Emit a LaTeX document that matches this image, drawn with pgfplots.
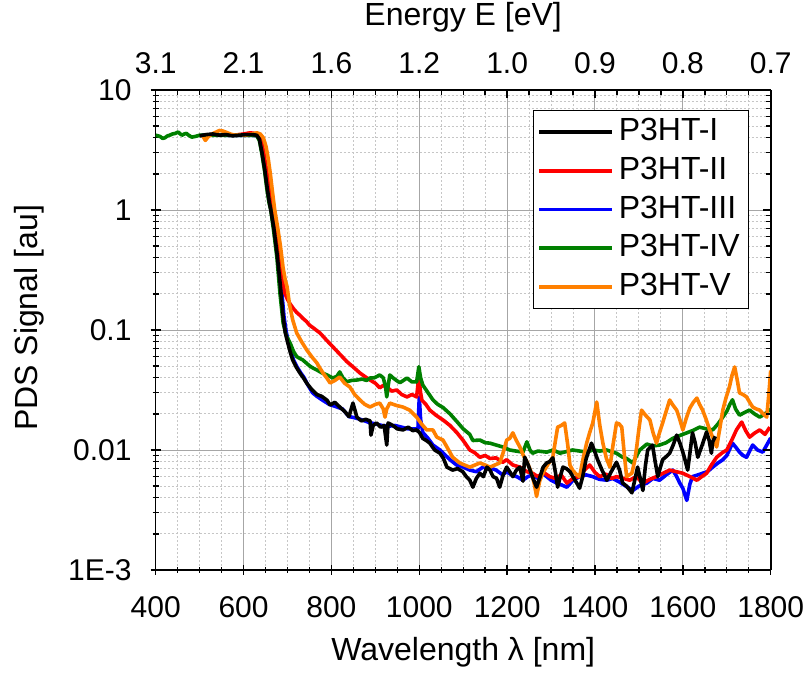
\documentclass[border=0pt]{standalone}
\usepackage{fontspec}
\setmainfont{Liberation Sans}
\usepackage{pgfplots}
\pgfplotsset{compat=1.18}
\definecolor{cgreen}{RGB}{0,128,0}
\definecolor{corange}{RGB}{255,128,0}
\definecolor{cred}{RGB}{255,0,0}
\definecolor{cblue}{RGB}{0,0,255}
\begin{document}
\begin{tikzpicture}
\useasboundingbox (-155.7pt,-104pt) rectangle (653.3pt,570pt);
\begin{axis}[
  at={(0pt,0pt)}, anchor=south west,
  scale only axis, width=615pt, height=480pt,
  xmin=400, xmax=1800, ymode=log, ymin=1e-3, ymax=10,
  xtick={400,600,...,1800}, minor x tick num=3,
  ytick={0.001,0.01,0.1,1,10},
  minor ytick={0.002,0.003,0.004,0.005,0.006,0.007,0.008,0.009,0.02,0.03,0.04,0.05,0.06,0.07,0.08,0.09,0.2,0.3,0.4,0.5,0.6,0.7,0.8,0.9,2,3,4,5,6,7,8,9},
  axis line style={line width=1.6pt, black, -},
  every tick/.style={black, line width=1.4pt},
  tick label style={font=\fontsize{30}{36}\selectfont, inner sep=0pt},
  label style={font=\fontsize{32}{38}\selectfont, inner sep=0pt},
  axis x line*=bottom, axis y line*=left,
  xticklabels={400,600,800,1000,1200,1400,1600,1800},
  yticklabels={1E-3,0.01,0.1,1,10},
  tick align=center, major tick length=10pt, minor tick length=6pt,
  grid=both,
  major grid style={line width=1pt, gray!70},
  minor grid style={line width=1pt, gray!45, dash pattern=on 2pt off 2pt},
  xticklabel style={anchor=center, yshift=-32pt},
  yticklabel style={anchor=east, xshift=-19pt},
  xlabel={Wavelength λ [nm]},
  xlabel style={at={(axis description cs:0.5,-0.171)}, anchor=center},
  ylabel={PDS Signal [au]},
  ylabel style={at={(axis description cs:-0.205,0.525)}, anchor=center},
  legend cell align=left,
  legend image code/.code={\draw[#1, line width=3.6pt] (0pt,0pt) -- (73pt,0pt);},
  legend style={at={(axis description cs:0.613,0.958)}, anchor=north west,
    draw=black, line width=1pt, fill=white,
    font=\fontsize{32}{38}\selectfont,
    inner xsep=4pt, inner ysep=5pt, row sep=5.7pt,
    nodes={inner xsep=5pt, inner ysep=2pt, text height=23pt, text depth=6pt}},
]
\addlegendimage{black}
\addlegendentry{P3HT-I}
\addlegendimage{cred}
\addlegendentry{P3HT-II}
\addlegendimage{cblue}
\addlegendentry{P3HT-III}
\addlegendimage{cgreen}
\addlegendentry{P3HT-IV}
\addlegendimage{corange}
\addlegendentry{P3HT-V}

% P3HT-III (blue)
\addplot[cblue, line width=3.6pt, line join=round, forget plot] coordinates {
(505,4.2)(530,4.25)(560,4.2)(590,4.2)(620,4.2)(631,4.15)(638,3.9)(644,3.0)(650,2.2)(655,1.6)(660,1.2)(664,1.0)(671,0.7)(678,0.44)(685,0.25)(692,0.13)(697,0.097)(702,0.08)(708,0.066)(714,0.056)(722,0.049)(730,0.044)(738,0.040)(746,0.035)(757,0.030)(767,0.028)(780,0.026)(795,0.024)(810,0.023)(825,0.022)(840,0.019)(855,0.0185)(870,0.0178)(885,0.017)(900,0.0165)(915,0.016)(930,0.0158)(945,0.016)(960,0.0155)(975,0.015)(990,0.0150)(997,0.0150)(1000,0.0277)(1003,0.018)(1008,0.014)(1020,0.0125)(1031,0.011)(1047,0.0100)(1060,0.0090)(1070,0.0083)(1085,0.0075)(1100,0.0072)(1115,0.0068)(1130,0.0066)(1145,0.0072)(1161,0.0071)(1175,0.0068)(1190,0.0062)(1199,0.0066)(1210,0.0062)(1222,0.0060)(1236,0.0056)(1247,0.0060)(1258,0.0062)(1270,0.0058)(1280,0.0064)(1290,0.0060)(1300,0.0056)(1313,0.0053)(1325,0.0051)(1336,0.0049)(1350,0.0056)(1365,0.0060)(1380,0.0062)(1395,0.0060)(1410,0.0057)(1427,0.0056)(1440,0.0058)(1456,0.0054)(1470,0.0050)(1486,0.0046)(1500,0.0050)(1518,0.0053)(1532,0.0058)(1547,0.0056)(1562,0.0062)(1577,0.0068)(1586,0.0060)(1593,0.0053)(1600,0.0048)(1609,0.0038)(1616,0.0052)(1622,0.0060)(1634,0.0062)(1645,0.0064)(1656,0.0066)(1668,0.0072)(1680,0.0078)(1691,0.0083)(1700,0.0090)(1713,0.0114)(1721,0.0105)(1729,0.0096)(1737,0.0090)(1745,0.0087)(1752,0.0098)(1759,0.0110)(1770,0.0100)(1782,0.0096)(1791,0.0110)(1800,0.0126)
};
% P3HT-II (red)
\addplot[cred, line width=3.6pt, line join=round, forget plot] coordinates {
(580,4.2)(600,4.3)(615,4.4)(625,4.35)(633,4.2)(640,3.9)(646,3.0)(652,2.2)(657,1.6)(662,1.2)(666,1.0)(673,0.7)(680,0.44)(686,0.29)(690,0.24)(694,0.203)(700,0.18)(706,0.165)(714,0.15)(721,0.14)(728,0.133)(735,0.125)(743,0.118)(750,0.11)(762,0.102)(774,0.0944)(788,0.083)(803,0.0726)(819,0.063)(835,0.0546)(850,0.049)(865,0.0438)(876,0.041)(888,0.0383)(900,0.036)(910,0.0330)(918,0.0345)(926,0.0335)(937,0.031)(949,0.0316)(960,0.029)(972,0.0277)(983,0.029)(994,0.0277)(999,0.041)(1003,0.030)(1006,0.026)(1015,0.024)(1024,0.0215)(1038,0.0195)(1054,0.0178)(1070,0.016)(1086,0.0139)(1100,0.012)(1115,0.0100)(1126,0.0095)(1138,0.0087)(1150,0.0090)(1161,0.0085)(1175,0.0086)(1190,0.0079)(1199,0.0083)(1213,0.0075)(1229,0.0072)(1245,0.0066)(1258,0.0064)(1270,0.0060)(1283,0.0065)(1297,0.0060)(1310,0.0058)(1323,0.0062)(1336,0.0053)(1350,0.0058)(1365,0.0060)(1376,0.0068)(1388,0.0075)(1400,0.0065)(1411,0.0060)(1425,0.0063)(1438,0.0058)(1449,0.0060)(1465,0.0058)(1479,0.0056)(1494,0.0060)(1509,0.0053)(1525,0.0057)(1540,0.0060)(1555,0.0064)(1570,0.0068)(1585,0.0066)(1600,0.0064)(1616,0.0060)(1632,0.0056)(1643,0.0060)(1654,0.0064)(1665,0.0075)(1677,0.0087)(1690,0.0095)(1700,0.0100)(1711,0.0120)(1722,0.0147)(1734,0.0171)(1743,0.0145)(1752,0.0128)(1763,0.0138)(1775,0.0147)(1787,0.0135)(1798,0.0155)
};
% P3HT-IV (green)
\addplot[cgreen, line width=3.6pt, line join=round, forget plot] coordinates {
(400,4.2)(405,4.15)(410,4.1)(416,3.95)(421,4.0)(427,4.15)(432,4.2)(438,4.3)(445,4.35)(451,4.47)(456,4.3)(460,4.2)(465,4.3)(470,4.35)(475,4.2)(482,4.05)(490,4.1)(500,4.2)(520,4.2)(540,4.2)(560,4.2)(580,4.2)(600,4.2)(620,4.2)(630,4.15)(636,3.8)(642,2.9)(648,2.1)(653,1.5)(658,1.15)(662,1.0)(669,0.65)(676,0.4)(683,0.2)(690,0.115)(697,0.09)(706,0.0779)(714,0.066)(721,0.060)(728,0.058)(735,0.0562)(743,0.053)(751,0.050)(759,0.048)(767,0.0464)(778,0.044)(790,0.0422)(803,0.0398)(812,0.041)(819,0.0447)(826,0.040)(835,0.0371)(846,0.038)(858,0.0383)(870,0.039)(880,0.038)(888,0.0398)(898,0.040)(910,0.0422)(918,0.040)(923,0.034)(926,0.0277)(929,0.034)(933,0.0422)(940,0.040)(948,0.038)(956,0.0364)(964,0.038)(972,0.0398)(983,0.037)(994,0.0369)(999,0.0494)(1003,0.040)(1008,0.0348)(1020,0.030)(1031,0.0262)(1042,0.024)(1054,0.0226)(1070,0.020)(1086,0.0172)(1100,0.0150)(1115,0.0135)(1122,0.0120)(1138,0.0121)(1150,0.0115)(1161,0.0114)(1175,0.0110)(1190,0.0106)(1206,0.0100)(1220,0.0098)(1236,0.0096)(1245,0.0117)(1252,0.0100)(1258,0.0094)(1270,0.0098)(1290,0.0096)(1305,0.0100)(1320,0.0094)(1335,0.0097)(1349,0.0100)(1365,0.0098)(1381,0.0096)(1395,0.0100)(1411,0.0098)(1427,0.0100)(1440,0.0096)(1449,0.0094)(1463,0.0087)(1472,0.0085)(1486,0.0078)(1495,0.0090)(1502,0.0100)(1518,0.0112)(1532,0.0108)(1547,0.0110)(1562,0.0115)(1577,0.0125)(1593,0.0132)(1609,0.0139)(1622,0.0145)(1638,0.0155)(1654,0.0150)(1668,0.0147)(1680,0.0165)(1691,0.0188)(1700,0.021)(1707,0.024)(1713,0.0262)(1720,0.022)(1729,0.0195)(1740,0.0205)(1752,0.0215)(1763,0.020)(1775,0.0188)(1787,0.020)(1800,0.022)
};
% P3HT-V (orange)
\addplot[corange, line width=3.6pt, line join=round, forget plot] coordinates {
(508,4.1)(513,3.8)(520,4.1)(528,4.3)(537,4.45)(545,4.6)(553,4.55)(560,4.45)(570,4.3)(580,4.2)(590,4.25)(600,4.2)(610,4.25)(620,4.3)(630,4.4)(638,4.3)(645,4.0)(651,3.4)(656,2.7)(661,2.0)(666,1.4)(671,1.0)(678,0.7)(684,0.5)(690,0.33)(695,0.26)(699,0.23)(705,0.16)(712,0.121)(721,0.0944)(732,0.080)(744,0.0681)(755,0.060)(767,0.0531)(774,0.048)(781,0.0438)(789,0.040)(797,0.0362)(808,0.038)(819,0.0406)(830,0.036)(842,0.0335)(853,0.029)(865,0.0261)(876,0.024)(888,0.0228)(900,0.024)(910,0.0246)(918,0.022)(922,0.0188)(926,0.022)(933,0.0246)(948,0.0235)(963,0.0228)(978,0.0215)(994,0.0188)(1005,0.0165)(1017,0.0147)(1031,0.0147)(1040,0.0128)(1054,0.0121)(1063,0.0106)(1076,0.0087)(1092,0.0078)(1103,0.0075)(1115,0.0072)(1127,0.0075)(1138,0.0078)(1150,0.0075)(1161,0.0072)(1172,0.0075)(1183,0.0078)(1191,0.0095)(1199,0.0121)(1206,0.0125)(1213,0.0139)(1221,0.0120)(1229,0.0106)(1237,0.0090)(1245,0.0080)(1255,0.0065)(1262,0.0052)(1267,0.0041)(1274,0.0055)(1281,0.0064)(1292,0.0075)(1304,0.0087)(1310,0.0120)(1315,0.0155)(1323,0.0160)(1331,0.0168)(1338,0.0110)(1343,0.0075)(1349,0.0068)(1357,0.0063)(1365,0.0060)(1373,0.0085)(1381,0.0114)(1388,0.0140)(1395,0.0168)(1404,0.0251)(1411,0.0160)(1418,0.0114)(1426,0.0085)(1434,0.0072)(1441,0.0110)(1449,0.0168)(1455,0.0165)(1461,0.0155)(1467,0.0090)(1472,0.0060)(1478,0.0062)(1484,0.0064)(1490,0.0080)(1495,0.0106)(1500,0.0150)(1506,0.0215)(1515,0.0195)(1525,0.0178)(1532,0.0140)(1540,0.0114)(1547,0.0140)(1554,0.0168)(1562,0.0210)(1570,0.0261)(1578,0.0235)(1586,0.0215)(1593,0.0180)(1600,0.0147)(1608,0.0185)(1616,0.0224)(1624,0.0250)(1632,0.0271)(1638,0.0240)(1645,0.0215)(1653,0.0180)(1661,0.0147)(1669,0.0125)(1677,0.0106)(1684,0.0150)(1691,0.0215)(1698,0.0270)(1706,0.0335)(1712,0.0420)(1718,0.0492)(1724,0.0380)(1729,0.0299)(1737,0.0290)(1745,0.0277)(1752,0.0250)(1759,0.0228)(1767,0.0220)(1775,0.0215)(1783,0.0200)(1791,0.0188)(1796,0.0300)(1800,0.0460)
};
% P3HT-I (black)
\addplot[black, line width=3.6pt, line join=round, forget plot] coordinates {
(500,4.15)(515,4.25)(530,4.3)(545,4.2)(560,4.25)(575,4.15)(590,4.2)(605,4.25)(620,4.25)(630,4.2)(636,3.9)(642,3.0)(648,2.2)(653,1.6)(658,1.2)(662,1.0)(669,0.7)(676,0.44)(683,0.25)(690,0.13)(695,0.095)(700,0.08)(706,0.066)(712,0.056)(720,0.049)(728,0.044)(736,0.040)(744,0.036)(755,0.032)(767,0.029)(778,0.028)(790,0.026)(797,0.0237)(808,0.025)(819,0.0228)(830,0.021)(840,0.019)(849,0.0246)(858,0.0188)(868,0.0175)(878,0.0180)(888,0.0175)(890,0.0133)(895,0.016)(903,0.0168)(912,0.0155)(920,0.016)(926,0.011)(929,0.0168)(940,0.0160)(950,0.0150)(963,0.0147)(975,0.0155)(985,0.0145)(994,0.0147)(1001,0.0139)(1008,0.0125)(1016,0.012)(1024,0.0114)(1035,0.0100)(1047,0.0094)(1055,0.0085)(1063,0.0072)(1076,0.0068)(1087,0.0070)(1099,0.0066)(1107,0.0060)(1115,0.0056)(1122,0.0049)(1130,0.0058)(1138,0.0064)(1146,0.0060)(1154,0.0072)(1161,0.0068)(1168,0.0060)(1176,0.0058)(1183,0.0049)(1191,0.0062)(1199,0.0072)(1206,0.0066)(1213,0.0060)(1221,0.0068)(1229,0.0072)(1236,0.0055)(1240,0.0087)(1248,0.0075)(1256,0.0062)(1267,0.0049)(1275,0.0060)(1282,0.0072)(1290,0.0078)(1297,0.0080)(1304,0.0086)(1310,0.0065)(1315,0.0049)(1321,0.0060)(1327,0.0072)(1335,0.0070)(1343,0.0066)(1352,0.0058)(1360,0.0052)(1365,0.0048)(1372,0.0060)(1380,0.0085)(1392,0.0114)(1399,0.0098)(1406,0.0083)(1416,0.0068)(1427,0.0056)(1437,0.0066)(1449,0.0079)(1456,0.0068)(1463,0.0053)(1472,0.0050)(1484,0.0044)(1490,0.0055)(1497,0.0072)(1503,0.0058)(1509,0.0046)(1515,0.0075)(1520,0.0100)(1531,0.0110)(1537,0.0080)(1543,0.0060)(1549,0.0072)(1554,0.0083)(1562,0.0088)(1570,0.0094)(1578,0.0110)(1586,0.0133)(1593,0.0115)(1600,0.0096)(1606,0.0080)(1611,0.0068)(1617,0.0100)(1622,0.0139)(1628,0.0115)(1634,0.0087)(1644,0.0110)(1654,0.0141)(1660,0.0120)(1665,0.0094)(1668,0.0117)(1674,0.0130)
};
\end{axis}
\begin{axis}[
  at={(0pt,0pt)}, anchor=south west,
  scale only axis, width=615pt, height=480pt,
  xmin=400, xmax=1800, ymode=log, ymin=1e-3, ymax=10,
  xtick={400,600,...,1800}, minor x tick num=3,
  ytick={0.001,0.01,0.1,1,10},
  minor ytick={0.002,0.003,0.004,0.005,0.006,0.007,0.008,0.009,0.02,0.03,0.04,0.05,0.06,0.07,0.08,0.09,0.2,0.3,0.4,0.5,0.6,0.7,0.8,0.9,2,3,4,5,6,7,8,9},
  axis line style={line width=1.6pt, black, -},
  every tick/.style={black, line width=1.4pt},
  tick label style={font=\fontsize{30}{36}\selectfont, inner sep=0pt},
  label style={font=\fontsize{32}{38}\selectfont, inner sep=0pt},
  axis x line*=top, axis y line*=right,
  xticklabels={3.1,2.1,1.6,1.2,1.0,0.9,0.8,0.7},
  yticklabels={,,,,},
  tick align=inside, major tick length=8pt, minor tick length=5pt,
  xticklabel style={anchor=center, yshift=27pt},
  xlabel={Energy E [eV]},
  xlabel style={at={(axis description cs:0.5,1.152)}, anchor=center},
]
\end{axis}
\end{tikzpicture}
\end{document}
